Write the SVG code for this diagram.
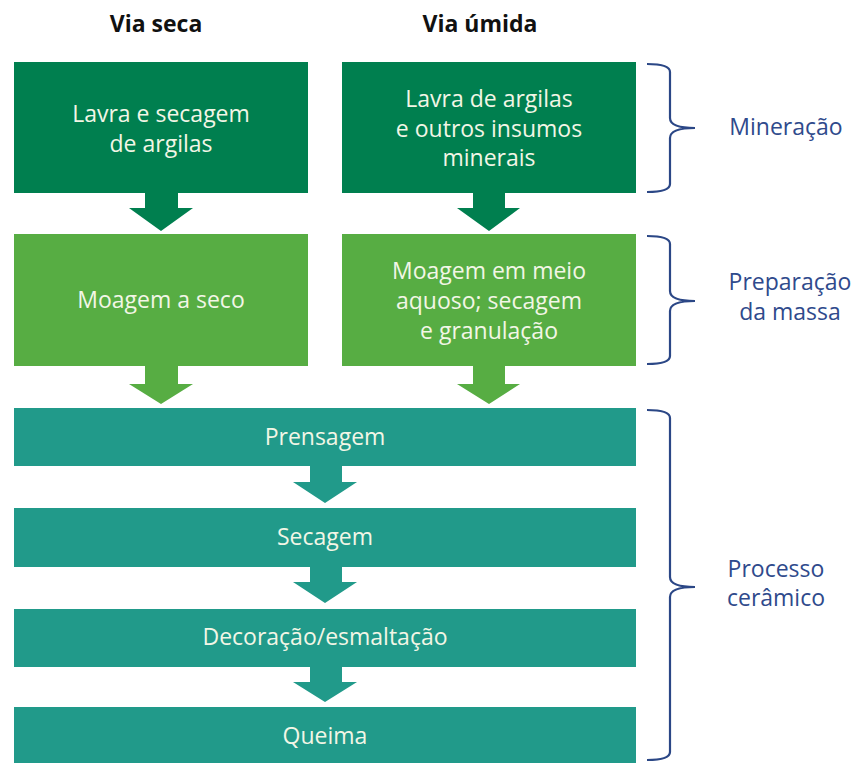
<svg xmlns="http://www.w3.org/2000/svg" width="858" height="763" viewBox="0 0 858 763">
<style>
.hd{font-family:"Open Sans","Liberation Sans",sans-serif;font-weight:bold;font-size:23px;fill:#111;text-anchor:middle}
.bt{font-family:"Open Sans","Liberation Sans",sans-serif;font-size:23px;fill:#F2F6E6;text-anchor:middle}
.lb{font-family:"Open Sans","Liberation Sans",sans-serif;font-size:23px;fill:#2F4A8C;text-anchor:middle}
.dg{fill:#007F4F}
.lg{fill:#57AD43}
.tl{fill:#219A8A}
.br{fill:none;stroke:#2B4786;stroke-width:2.2}
</style>
<rect width="858" height="763" fill="#fff"/>
<text class="hd" x="156" y="32">Via seca</text>
<text class="hd" x="480" y="32">Via úmida</text>

<g id="connectors">
<polygon class="dg" points="145,193 178,193 178,208 193,208 161,231 129,208 145,208"/>
<polygon class="dg" points="473,193 505,193 505,208 520,208 489,231 457,208 473,208"/>
<polygon class="lg" points="145,366 178,366 178,384 193,384 161,404 129,384 145,384"/>
<polygon class="lg" points="473,366 505,366 505,384 520,384 489,404 457,384 473,384"/>
<polygon class="tl" points="310,466 342,466 342,482 357,482 325,503 293,482 310,482"/>
<polygon class="tl" points="310,567 342,567 342,582 357,582 325,603 293,582 310,582"/>
<polygon class="tl" points="310,667 342,667 342,682 357,682 325,702 293,682 310,682"/>
</g>

<g id="n1"><rect class="dg" x="14" y="62" width="294" height="131"/>
<text class="bt" x="161" y="122">Lavra e secagem</text><text class="bt" x="161" y="152">de argilas</text></g>
<g id="n2"><rect class="dg" x="342" y="62" width="294" height="131"/>
<text class="bt" x="489" y="107">Lavra de argilas</text><text class="bt" x="489" y="137">e outros insumos</text><text class="bt" x="489" y="166">minerais</text></g>
<g id="n3"><rect class="lg" x="14" y="234" width="294" height="132"/>
<text class="bt" x="161" y="308">Moagem a seco</text></g>
<g id="n4"><rect class="lg" x="342" y="234" width="294" height="132"/>
<text class="bt" x="489" y="279">Moagem em meio</text><text class="bt" x="489" y="309">aquoso; secagem</text><text class="bt" x="489" y="339">e granulação</text></g>
<g id="n5"><rect class="tl" x="14" y="408" width="622" height="58"/>
<text class="bt" x="325" y="445">Prensagem</text></g>
<g id="n6"><rect class="tl" x="14" y="508" width="622" height="59"/>
<text class="bt" x="325" y="545">Secagem</text></g>
<g id="n7"><rect class="tl" x="14" y="609" width="622" height="58"/>
<text class="bt" x="325" y="645">Decoração/esmaltação</text></g>
<g id="n8"><rect class="tl" x="14" y="707" width="622" height="60"/>
<text class="bt" x="325" y="744">Queima</text></g>

<g id="braces">
<path class="br" d="M647,64 Q670,64 670,72 L670,118 Q670,128 695,128 Q670,128 670,138 L670,184 Q670,192 647,192"/>
<path class="br" d="M647,236 Q670,236 670,244 L670,291 Q670,301 695,301 Q670,301 670,311 L670,356 Q670,364 647,364"/>
<path class="br" d="M647,410 Q670,410 670,418 L670,577 Q670,587 695,587 Q670,587 670,597 L670,752 Q670,760 647,760"/>
</g>
<text class="lb" x="786" y="135">Mineração</text>
<text class="lb" x="790" y="290">Preparação</text>
<text class="lb" x="790" y="320">da massa</text>
<text class="lb" x="776" y="577">Processo</text>
<text class="lb" x="776" y="606">cerâmico</text>
</svg>
